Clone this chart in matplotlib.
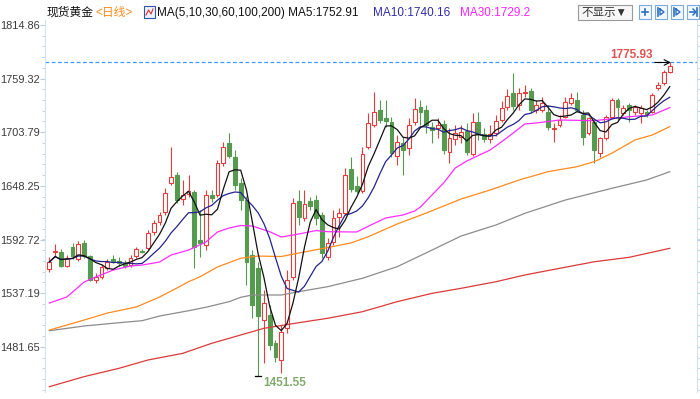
"""Spot gold daily candlesticks with MA(5,10,30,60,100,200) overlay."""
import matplotlib
matplotlib.use("Agg")
import matplotlib.pyplot as plt
from matplotlib.patches import Rectangle
from matplotlib.ticker import AutoMinorLocator
import numpy as np
import pandas as pd

plt.rcParams["font.family"] = ["Liberation Sans", "Noto Sans CJK SC", "DejaVu Sans"]

# ---- daily OHLC (oldest -> newest) ----
opens = [
    1562.2, 1579.8, 1579.3, 1565.8, 1585.0, 1572.5, 1588.6, 1575.6, 1550.8, 1553.9,
    1563.2, 1572.5, 1570.5, 1568.4, 1566.3, 1575.6, 1581.3, 1583.9, 1600.5, 1610.8,
    1621.2, 1651.2, 1659.5, 1634.6, 1639.8, 1641.9, 1592.2, 1587.0, 1638.8, 1638.8,
    1671.9, 1692.6, 1678.1, 1651.2, 1633.6, 1576.7, 1563.2, 1509.4, 1514.6, 1485.6,
    1468.0, 1501.1, 1553.9, 1632.6, 1615.0, 1632.6, 1633.6, 1618.1, 1574.6, 1590.1,
    1616.0, 1620.1, 1665.7, 1648.1, 1642.9, 1688.5, 1711.2, 1726.7, 1718.5, 1714.3,
    1679.1, 1692.6, 1687.4, 1714.3, 1729.9, 1726.7, 1709.2, 1708.1, 1712.3, 1683.3,
    1696.7, 1698.8, 1705.0, 1681.2, 1714.3, 1701.9, 1696.7, 1702.9, 1716.4, 1729.9,
    1744.3, 1731.9, 1744.8, 1746.4, 1726.7, 1726.7, 1724.7, 1706.6, 1711.2, 1719.5,
    1734.0, 1737.1, 1721.6, 1702.9, 1714.3, 1682.2, 1697.8, 1719.5, 1737.1, 1723.6,
    1731.9, 1724.7, 1723.6, 1724.7, 1724.7, 1749.5, 1754.7, 1766.1,
]
highs = [
    1574.6, 1588.1, 1582.9, 1576.7, 1589.1, 1591.2, 1592.2, 1576.7, 1558.0, 1567.4,
    1572.5, 1576.7, 1574.6, 1571.5, 1576.7, 1585.0, 1582.9, 1602.5, 1612.9, 1621.2,
    1646.0, 1688.5, 1662.6, 1654.3, 1659.5, 1643.9, 1623.2, 1643.9, 1643.9, 1675.0,
    1693.6, 1702.9, 1685.3, 1656.4, 1637.7, 1581.8, 1569.4, 1540.4, 1524.9, 1488.7,
    1504.2, 1561.1, 1635.7, 1643.9, 1643.9, 1636.7, 1638.8, 1621.2, 1594.3, 1623.2,
    1625.3, 1666.7, 1678.1, 1658.4, 1688.5, 1723.6, 1745.4, 1737.1, 1737.1, 1719.5,
    1700.9, 1698.8, 1718.5, 1739.2, 1737.1, 1731.9, 1714.3, 1718.5, 1716.4, 1708.1,
    1711.2, 1711.2, 1713.3, 1723.6, 1724.7, 1708.1, 1711.2, 1721.6, 1736.1, 1748.5,
    1765.0, 1749.5, 1752.6, 1749.5, 1737.1, 1740.2, 1731.9, 1713.3, 1721.6, 1740.2,
    1744.3, 1745.4, 1726.7, 1719.5, 1718.5, 1698.8, 1721.6, 1739.2, 1739.2, 1731.9,
    1734.0, 1731.9, 1731.9, 1726.7, 1744.3, 1755.7, 1768.1, 1775.93,
]
lows = [
    1559.1, 1574.6, 1564.3, 1564.3, 1572.5, 1570.5, 1573.6, 1549.8, 1547.7, 1551.8,
    1561.1, 1568.4, 1565.3, 1563.2, 1564.3, 1573.6, 1578.7, 1581.8, 1597.4, 1607.7,
    1618.1, 1649.1, 1630.5, 1628.4, 1636.7, 1563.2, 1574.6, 1581.8, 1631.5, 1636.7,
    1668.8, 1677.1, 1643.9, 1623.2, 1545.6, 1511.5, 1451.55, 1464.9, 1478.3, 1465.9,
    1454.5, 1495.9, 1550.8, 1607.7, 1611.9, 1623.2, 1607.7, 1573.6, 1571.5, 1587.0,
    1595.3, 1618.1, 1641.9, 1640.8, 1640.8, 1686.4, 1709.2, 1713.3, 1709.2, 1678.1,
    1669.8, 1659.5, 1680.2, 1711.2, 1711.2, 1702.9, 1692.6, 1697.8, 1681.2, 1671.9,
    1690.5, 1692.6, 1680.2, 1679.1, 1695.7, 1693.6, 1692.6, 1699.8, 1714.3, 1726.7,
    1726.7, 1726.7, 1740.2, 1723.6, 1723.6, 1724.7, 1706.0, 1693.6, 1709.2, 1718.5,
    1731.9, 1724.7, 1690.5, 1700.9, 1671.9, 1678.1, 1695.7, 1718.5, 1716.4, 1721.6,
    1714.3, 1721.6, 1713.3, 1719.5, 1723.6, 1747.4, 1752.6, 1765.0,
]
closes = [
    1569.4, 1580.8, 1565.8, 1574.1, 1575.6, 1588.1, 1575.6, 1551.3, 1553.9, 1564.3,
    1569.4, 1570.5, 1568.4, 1565.3, 1573.6, 1582.9, 1580.3, 1599.4, 1609.8, 1618.1,
    1640.8, 1657.4, 1633.6, 1638.8, 1642.9, 1585.0, 1589.1, 1638.8, 1635.7, 1671.9,
    1688.5, 1679.1, 1649.1, 1633.6, 1569.4, 1524.9, 1513.5, 1527.0, 1483.5, 1471.1,
    1497.0, 1550.8, 1630.5, 1616.0, 1629.5, 1627.4, 1615.0, 1578.7, 1589.1, 1615.0,
    1620.1, 1659.5, 1645.0, 1642.9, 1681.2, 1713.3, 1724.7, 1716.4, 1715.4, 1682.2,
    1693.6, 1685.3, 1711.2, 1727.8, 1724.7, 1711.2, 1706.0, 1711.2, 1685.3, 1697.8,
    1702.9, 1704.0, 1683.3, 1714.3, 1701.9, 1696.7, 1701.9, 1715.4, 1728.8, 1741.2,
    1730.9, 1744.3, 1745.9, 1726.7, 1731.9, 1734.0, 1709.2, 1708.1, 1716.4, 1735.0,
    1739.2, 1726.7, 1698.8, 1718.5, 1685.3, 1697.8, 1719.5, 1737.1, 1729.9, 1728.8,
    1726.7, 1729.9, 1728.8, 1721.6, 1742.3, 1752.6, 1766.1, 1772.3,
]

# ---- long moving averages, read at sample candles (index, value) ----
ma30_idx = [0, 3, 6, 8, 11, 14, 16, 19, 21, 24, 27, 29, 31, 33, 35, 38, 40, 43, 46, 48,
            53, 56, 58, 61, 63, 64, 66, 68, 70, 72, 76, 78, 80, 82, 84, 88, 94, 100, 104, 107]
ma30_val = [1527.0, 1533.2, 1548.7, 1553.9, 1561.1, 1565.3, 1566.3, 1569.4, 1576.7, 1581.8,
            1590.1, 1600.5, 1604.6, 1607.2, 1606.7, 1600.8, 1595.3, 1598.4, 1602.0, 1600.8,
            1600.5, 1609.3, 1615.0, 1618.1, 1622.2, 1626.4, 1638.8, 1651.2, 1666.7, 1674.0,
            1685.3, 1693.9, 1702.9, 1712.3, 1713.3, 1716.4, 1715.7, 1719.8, 1721.6, 1729.2]
ma60_idx = [0, 6, 10, 15, 19, 22, 24, 26, 29, 33, 36, 40, 43, 48, 52, 55, 60, 65, 68, 71,
            76, 81, 86, 91, 94, 97, 101, 104, 107]
ma60_val = [1499.0, 1509.4, 1516.6, 1522.9, 1533.2, 1542.5, 1549.0, 1554.2, 1564.3, 1573.3,
            1575.6, 1575.1, 1578.7, 1584.4, 1589.1, 1595.6, 1608.8, 1620.1, 1627.4, 1634.6,
            1643.9, 1654.3, 1662.9, 1668.1, 1673.3, 1682.0, 1695.7, 1700.9, 1709.5]
ma100_idx = [0, 6, 12, 16, 19, 24, 27, 31, 33, 35, 40, 43, 48, 54, 60, 66, 71, 77, 82, 89,
             97, 103, 107]
ma100_val = [1498.3, 1503.2, 1506.6, 1508.7, 1513.5, 1519.0, 1522.6, 1528.4, 1532.9, 1535.3,
             1535.3, 1538.7, 1543.9, 1552.6, 1564.6, 1581.8, 1596.3, 1607.7, 1619.8, 1633.6,
             1645.7, 1654.3, 1662.9]
ma200_idx = [0, 6, 12, 17, 23, 28, 33, 37, 43, 48, 54, 60, 66, 71, 77, 82, 88, 94, 100, 107]
ma200_val = [1440.4, 1450.8, 1459.4, 1468.0, 1474.9, 1485.3, 1493.9, 1500.8, 1506.6, 1511.2,
             1518.0, 1528.4, 1537.0, 1542.2, 1549.0, 1556.0, 1562.9, 1569.7, 1574.3, 1583.6]

ytick_vals = [1481.65, 1537.19, 1592.72, 1648.25, 1703.79, 1759.32, 1814.86]

UP = "#e23c3c"
DOWN = "#559a4f"


def main() -> None:
    n = len(closes)
    x = np.arange(n)
    c = pd.Series(closes)
    ma5 = c.rolling(5, min_periods=1).mean()
    ma10 = c.rolling(10, min_periods=1).mean()

    fig = plt.figure(figsize=(7, 3.99), dpi=100)
    ax = fig.add_axes([45 / 700, 7 / 399, 652 / 700, 372 / 399])

    # candles
    w = 0.66
    for i in range(n):
        o, h, l, cl = opens[i], highs[i], lows[i], closes[i]
        up = cl >= o
        col = UP if up else DOWN
        ax.vlines(i, l, h, color=col, lw=0.8, zorder=2)
        lo_b, hgt = min(o, cl), max(abs(cl - o), 0.6)
        ax.add_patch(Rectangle((i - w / 2, lo_b), w, hgt,
                               facecolor="white" if up else col,
                               edgecolor=col, lw=0.8, zorder=3))

    # moving averages
    ax.plot(ma200_idx, ma200_val, color="#d93a3a", lw=0.9, zorder=4)
    ax.plot(ma100_idx, ma100_val, color="#8c8c8c", lw=0.9, zorder=4)
    ax.plot(ma60_idx, ma60_val, color="#ff8a1e", lw=0.9, zorder=4)
    ax.plot(ma30_idx, ma30_val, color="#ff2cff", lw=0.9, zorder=4)
    ax.plot(x, ma10, color="#23238f", lw=0.9, zorder=5)
    ax.plot(x, ma5, color="#111111", lw=0.9, zorder=5)

    # highest / lowest markers
    i_hi = int(np.argmax(highs))
    i_lo = int(np.argmin(lows))
    hi, lo = highs[i_hi], lows[i_lo]
    ax.axhline(hi, color="#3a9aff", lw=0.9, ls=(0, (3, 2)), zorder=1)
    ax.annotate("", xy=(i_hi + 0.2, hi), xytext=(-16, 0), textcoords="offset pixels",
                arrowprops=dict(arrowstyle="->", color="black", lw=0.8,
                                shrinkA=0, shrinkB=0), zorder=6)
    ax.annotate(f"{hi:.2f}", xy=(i_hi, hi), xytext=(-17, 7), textcoords="offset pixels",
                ha="right", va="center", fontsize=8.5, fontweight="bold", color="#e05252")
    ax.plot([i_lo - 0.45, i_lo + 0.45], [lo, lo], color="black", lw=0.9, zorder=6)
    ax.annotate(f"{lo:.2f}", xy=(i_lo, lo), xytext=(5, -7), textcoords="offset pixels",
                ha="left", va="center", fontsize=8.5, fontweight="bold", color="#82aa6e")

    ax.set_xlim(-0.75, 111.7)
    ax.set_ylim(1434.9, 1819.9)
    ax.set_yticks(ytick_vals)
    ax.set_yticklabels([f"{v:.2f}" for v in ytick_vals])
    ax.yaxis.set_minor_locator(AutoMinorLocator(5))
    ax.tick_params(axis="y", which="both", direction="out", color="#b7cde2",
                   labelcolor="#3c3c3c", labelsize=7.9, left=True, right=True,
                   labelright=False, pad=0.5)
    ax.tick_params(axis="y", which="major", length=3.5)
    ax.tick_params(axis="y", which="minor", length=2.5)
    ax.tick_params(axis="x", bottom=False, labelbottom=False)
    for s in ("top", "bottom"):
        ax.spines[s].set_visible(False)
    for s in ("left", "right"):
        ax.spines[s].set_color("#d3e2ef")
        ax.spines[s].set_linestyle((0, (1, 1)))
        ax.spines[s].set_linewidth(0.8)

    # header strip in pixel space
    ov = fig.add_axes([0, 0, 1, 1], zorder=5)
    ov.set_xlim(0, 700)
    ov.set_ylim(399, 0)
    ov.axis("off")
    ov.text(47, 13, "现货黄金", fontsize=8.5, va="center", color="#111111")
    ov.text(95, 13, "<日线>", fontsize=8.5, va="center", color="#ff8a1e")
    ov.add_patch(Rectangle((144, 6), 11, 12, facecolor="#eef3fb", edgecolor="#3355aa", lw=0.8))
    ov.plot([146, 148.5, 151, 153], [15, 10, 14, 9], color="#e03030", lw=0.8)
    ov.text(157, 13, "MA(5,10,30,60,100,200) MA5:1752.91", fontsize=8.5, va="center",
            color="#111111")
    ov.text(373, 13, "MA10:1740.16", fontsize=8.5, va="center", color="#2e2ea6")
    ov.text(460, 13, "MA30:1729.2", fontsize=8.5, va="center", color="#ff22ff")

    ov.add_patch(Rectangle((578, 5), 54, 15, facecolor="#f7f7f7", edgecolor="#9a9a9a", lw=0.8))
    ov.text(581, 13, "不显示▼", fontsize=8.3, va="center", color="#333333")
    blue = "#2a6fc0"
    for bx in (639, 655, 671, 687):
        ov.add_patch(Rectangle((bx, 5), 12, 14, facecolor="#f3f8fd", edgecolor="#7aaade", lw=0.8))
    ov.plot([642, 648], [12, 12], color=blue, lw=1.2)
    ov.plot([645, 645], [9, 15], color=blue, lw=1.2)
    ov.plot([658, 658], [8, 16], color=blue, lw=1.2)
    ov.plot([660, 664, 660, 660], [9, 12, 15, 9], color=blue, lw=1.0)
    ov.plot([674, 674], [8, 16], color=blue, lw=1.2)
    ov.plot([676, 680, 676, 676], [9, 12, 15, 9], color=blue, lw=1.0)
    ov.plot([690, 695], [12, 12], color=blue, lw=1.2)
    ov.plot([693, 696, 693], [9, 12, 15], color=blue, lw=1.0)
    ov.plot([697, 697], [8, 16], color=blue, lw=1.2)

    fig.savefig("out.png", dpi=100)
    plt.close(fig)


if __name__ == "__main__":
    main()
